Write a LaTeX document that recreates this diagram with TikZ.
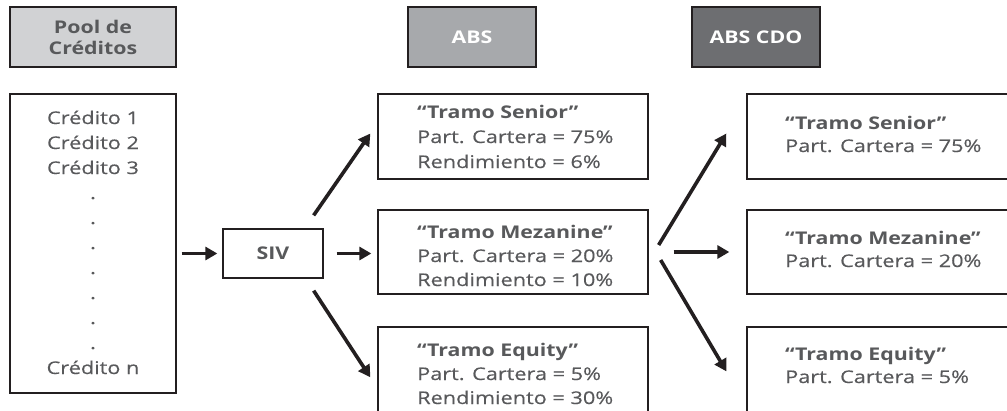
\documentclass[tikz,border=0pt]{standalone}
\usepackage{fontspec}
\setmainfont{Open Sans}[UprightFeatures={FakeStretch=1.24,FakeBold=0.35},BoldFeatures={FakeStretch=1.22}]
\usetikzlibrary{arrows.meta,calc}
\definecolor{txt}{HTML}{58595B}
\definecolor{boxline}{HTML}{231F20}
\definecolor{arrowc}{HTML}{231F20}
\definecolor{poolc}{HTML}{D1D2D4}
\definecolor{absc}{HTML}{A7A9AC}
\definecolor{cdoc}{HTML}{6D6E71}
\tikzset{
  hdr/.style={draw=boxline,line width=1.5pt,inner sep=0pt,minimum height=60pt,
    font=\fontsize{17.5}{21}\selectfont\bfseries,align=center},
  box/.style={draw=boxline,line width=1.3pt,inner sep=0pt,fill=white},
  tbox/.style={anchor=base west,inner sep=0pt,text=txt},
  arr/.style={draw=arrowc,line width=3.6pt,-{Triangle[length=12pt,width=13pt]}},
}
\begin{document}
\begin{tikzpicture}[x=1pt,y=-1pt,font=\fontsize{17.5}{24}\selectfont]
\useasboundingbox (0,0) rectangle (1007,410);
\clip (0,0) rectangle (1007,410);
\fill[white] (0,0) rectangle (1007,410);
% headers
\node[hdr,fill=poolc,text=txt,minimum width=166pt] (hpool) at (93,37) {Pool de\\Créditos};
\node[hdr,fill=absc,text=white,minimum width=128pt] (habs) at (472,37) {ABS};
\node[hdr,fill=cdoc,text=white,minimum width=128pt] (hcdo) at (756,37) {ABS CDO};
% credit pool
\node[box,minimum width=166pt,minimum height=299pt] (cred) at (93,243.5) {};
\node[anchor=base,inner sep=0pt,text=txt,font=\fontsize{17.5}{25}\selectfont] (clist) at (93,124)
 {\begin{tabular}[t]{@{}c@{}}Crédito 1\\Crédito 2\\Crédito 3\\.\\.\\.\\.\\.\\.\\.\\Crédito n\end{tabular}};
% SIV
\node[box,minimum width=100pt,minimum height=49pt,text=txt,font=\fontsize{17.5}{24}\selectfont\bfseries] (siv) at (273,253.5) {SIV};
% ABS tranches
\node[box,minimum width=270pt,minimum height=85pt] (absS) at (513,136.5) {};
\node[box,minimum width=270pt,minimum height=84pt] (absM) at (513,252) {};
\node[box,minimum width=270pt,minimum height=85pt] (absE) at (513,369.5) {};
\node[tbox,font=\fontsize{17.5}{25}\selectfont] (tabsS) at (417,118)
 {\begin{tabular}[t]{@{}l@{}}\textbf{“Tramo Senior”}\\Part. Cartera = 75\%\\Rendimiento = 6\%\end{tabular}};
\node[tbox,font=\fontsize{17.5}{24}\selectfont] (tabsM) at (417,238)
 {\begin{tabular}[t]{@{}l@{}}\textbf{“Tramo Mezanine”}\\Part. Cartera = 20\%\\Rendimiento = 10\%\end{tabular}};
\node[tbox,font=\fontsize{17.5}{24}\selectfont] (tabsE) at (417,356)
 {\begin{tabular}[t]{@{}l@{}}\textbf{“Tramo Equity”}\\Part. Cartera = 5\%\\Rendimiento = 30\%\end{tabular}};
% CDO tranches
\node[box,minimum width=270pt,minimum height=85pt] (cdoS) at (882,136.5) {};
\node[box,minimum width=270pt,minimum height=84pt] (cdoM) at (882,252) {};
\node[box,minimum width=270pt,minimum height=85pt] (cdoE) at (882,369.5) {};
\node[tbox,font=\fontsize{17.5}{23}\selectfont] (tcdoS) at (785,129)
 {\begin{tabular}[t]{@{}l@{}}\textbf{“Tramo Senior”}\\Part. Cartera = 75\%\end{tabular}};
\node[tbox,font=\fontsize{17.5}{23}\selectfont] (tcdoM) at (785,244)
 {\begin{tabular}[t]{@{}l@{}}\textbf{“Tramo Mezanine”}\\Part. Cartera = 20\%\end{tabular}};
\node[tbox,font=\fontsize{17.5}{23}\selectfont] (tcdoE) at (785,360)
 {\begin{tabular}[t]{@{}l@{}}\textbf{“Tramo Equity”}\\Part. Cartera = 5\%\end{tabular}};
% arrows
\draw[arr,shorten <=5pt,shorten >=5pt] (cred.east |- siv.west) -- (siv.west);
\draw[arr] ($(siv.north east)+(-10,-13)$) -- ($(absS.west)+(-7,-3)$);
\draw[arr,shorten <=13pt,shorten >=6pt] (siv.east) -- (siv.east -| absM.west);
\draw[arr] ($(siv.south east)+(-10,12)$) -- ($(absE.north west)+(-7,51)$);
\draw[arr] ($(absM.east)+(10,-7)$) -- ($(cdoS.west)+(-20,-3)$);
\draw[arr,shorten <=25pt,shorten >=17pt] (absM.east) -- (absM.east -| cdoM.west);
\draw[arr] ($(absM.east)+(12,8)$) -- ($(cdoE.north west)+(-20,45)$);
\end{tikzpicture}
\end{document}
